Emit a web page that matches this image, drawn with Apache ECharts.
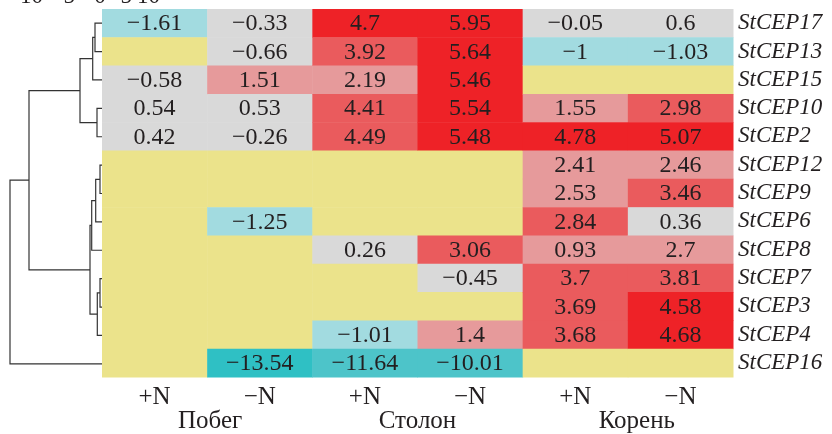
<!DOCTYPE html>
<html><head><meta charset="utf-8">
<script src="https://cdn.jsdelivr.net/npm/echarts@6/dist/echarts.min.js"></script>
<style>html,body{margin:0;padding:0;background:#fff}#c{width:832px;height:434px}</style>
</head><body><div id="c"></div>
<script>
// ---- data ----
const genes = ['StCEP17','StCEP13','StCEP15','StCEP10','StCEP2','StCEP12','StCEP9','StCEP6','StCEP8','StCEP7','StCEP3','StCEP4','StCEP16'];
const conditions = ['+N','\u2212N','+N','\u2212N','+N','\u2212N'];
const tissues = ['Побег','Столон','Корень'];
const shootPlus   = [-1.61, null, -0.58, 0.54, 0.42, null, null, null, null, null, null, null, null];
const shootMinus  = [-0.33, -0.66, 1.51, 0.53, -0.26, null, null, -1.25, null, null, null, null, -13.54];
const stolonPlus  = [4.7, 3.92, 2.19, 4.41, 4.49, null, null, null, 0.26, null, null, -1.01, -11.64];
const stolonMinus = [5.95, 5.64, 5.46, 5.54, 5.48, null, null, null, 3.06, -0.45, null, 1.4, -10.01];
const rootPlus    = [-0.05, -1, null, 1.55, 4.78, 2.41, 2.53, 2.84, 0.93, 3.7, 3.69, 3.68, null];
const rootMinus   = [0.6, -1.03, null, 2.98, 5.07, 2.46, 3.46, 0.36, 2.7, 3.81, 4.58, 4.68, null];
const scaleTicks = ['\u221210', '\u22125', '0', '5', '10'];
// dendrogram linkage (leaves = row indices 0..12, new clusters 13..)
const linkLeft   = [0, 13, 3, 14, 5, 17, 18, 9, 20, 19, 16, 23];
const linkRight  = [1, 2, 4, 15, 6, 7, 8, 10, 11, 21, 22, 12];
const linkHeight = [7, 9.3, 5, 22, 2, 6.3, 10.3, 2, 4.7, 12, 73, 92];

// ---- build ----
const columns = [shootPlus, shootMinus, stolonPlus, stolonMinus, rootPlus, rootMinus];
const cells = [];
columns.forEach((col, ci) => col.forEach((v, ri) => cells.push([ci, ri, v])));

function cellColor(v) {
  if (v === null || v === undefined) return '#ebe38b';
  if (v >= 4.5) return '#ee2227';
  if (v >= 2.75) return '#ea5b5d';
  if (v >= 0.9) return '#e69a9b';
  if (v > -0.9) return '#d9d9d9';
  if (v > -5) return '#a2dbe0';
  if (v > -12) return '#4dc4c9';
  return '#2fc0c4';
}
function fmt(v) {
  if (v === null || v === undefined) return '';
  return (v < 0 ? '\u2212' : '') + String(Math.abs(v));
}

// dendrogram polylines
const nLeaves = genes.length;
const nodeY = [], nodeH = [];
for (let i = 0; i < nLeaves; i++) { nodeY.push(i + 0.5); nodeH.push(0); }
const dendroLines = [];
for (let k = 0; k < linkLeft.length; k++) {
  const a = linkLeft[k], b = linkRight[k], h = linkHeight[k];
  dendroLines.push({ coords: [[nodeH[a], nodeY[a]], [h, nodeY[a]], [h, nodeY[b]], [nodeH[b], nodeY[b]]] });
  nodeY.push((nodeY[a] + nodeY[b]) / 2);
  nodeH.push(h);
}

const FONT = '"Liberation Serif", "DejaVu Serif", serif';
const TXT = '#231f20';
const chart = echarts.init(document.getElementById('c'), null, { renderer: 'canvas' });
const tickX = [43, 75, 100, 132, 160];
const tissuePad = { 'Побег': [0, 0, 0, 6], 'Столон': [0, 0, 0, 0], 'Корень': [0, 0, 0, 18] };
chart.setOption({
  animation: false,
  backgroundColor: '#fff',
  graphic: scaleTicks.map((t, i) => ({
    type: 'text', x: tickX[i], y: -3,
    style: { text: t, font: '23px ' + FONT, fill: TXT, textAlign: i === 2 ? 'center' : 'right', textVerticalAlign: 'middle' }
  })),
  grid: [
    { left: 102, right: 99, top: 9, bottom: 56 },
    { left: 0, width: 102, top: 9, bottom: 56 }
  ],
  xAxis: [
    { type: 'category', gridIndex: 0, data: conditions, position: 'bottom',
      axisLine: { show: false }, axisTick: { show: false }, splitLine: { show: false },
      axisLabel: { interval: 0, margin: 8, fontFamily: FONT, fontSize: 25, color: TXT } },
    { type: 'category', gridIndex: 0, data: tissues, position: 'bottom',
      axisLine: { show: false }, axisTick: { show: false }, splitLine: { show: false },
      axisLabel: { interval: 0, margin: 32, fontFamily: FONT, fontSize: 25, color: TXT,
        formatter: function (v) { return '{' + (v === 'Побег' ? 'a' : v === 'Корень' ? 'c' : 'b') + '|' + v + '}'; },
        rich: {
          a: { fontFamily: FONT, fontSize: 25, color: TXT, padding: tissuePad['Побег'] },
          b: { fontFamily: FONT, fontSize: 25, color: TXT, padding: tissuePad['Столон'] },
          c: { fontFamily: FONT, fontSize: 25, color: TXT, padding: tissuePad['Корень'] }
        } } },
    { type: 'value', gridIndex: 1, min: 0, max: 102, inverse: true, show: false }
  ],
  yAxis: [
    { type: 'category', gridIndex: 0, data: genes, inverse: true, position: 'right',
      axisLine: { show: false }, axisTick: { show: false }, splitLine: { show: false },
      axisLabel: { interval: 0, margin: 5, fontFamily: FONT, fontSize: 23, fontStyle: 'italic', color: TXT } },
    { type: 'value', gridIndex: 1, min: 0, max: nLeaves, inverse: true, show: false }
  ],
  series: [
    {
      type: 'custom', xAxisIndex: 0, yAxisIndex: 0, data: cells,
      encode: { x: 0, y: 1 },
      renderItem: function (params, api) {
        const c = cells[params.dataIndex];
        const p = api.coord([c[0], c[1]]);
        const s = api.size([1, 1]);
        return {
          type: 'group',
          children: [
            { type: 'rect', shape: { x: p[0] - s[0] / 2, y: p[1] - s[1] / 2, width: s[0] + 0.5, height: s[1] + 0.5 },
              style: { fill: cellColor(c[2]) } },
            { type: 'text', z2: 10, style: { x: p[0], y: p[1] + 1, text: fmt(c[2]), font: '24px ' + FONT, fill: TXT,
              textAlign: 'center', textVerticalAlign: 'middle' } }
          ]
        };
      }
    },
    {
      type: 'lines', coordinateSystem: 'cartesian2d', xAxisIndex: 2, yAxisIndex: 1,
      polyline: true, silent: true, data: dendroLines,
      lineStyle: { color: '#333333', width: 1.2, opacity: 1 }
    }
  ]
});
</script></body></html>
